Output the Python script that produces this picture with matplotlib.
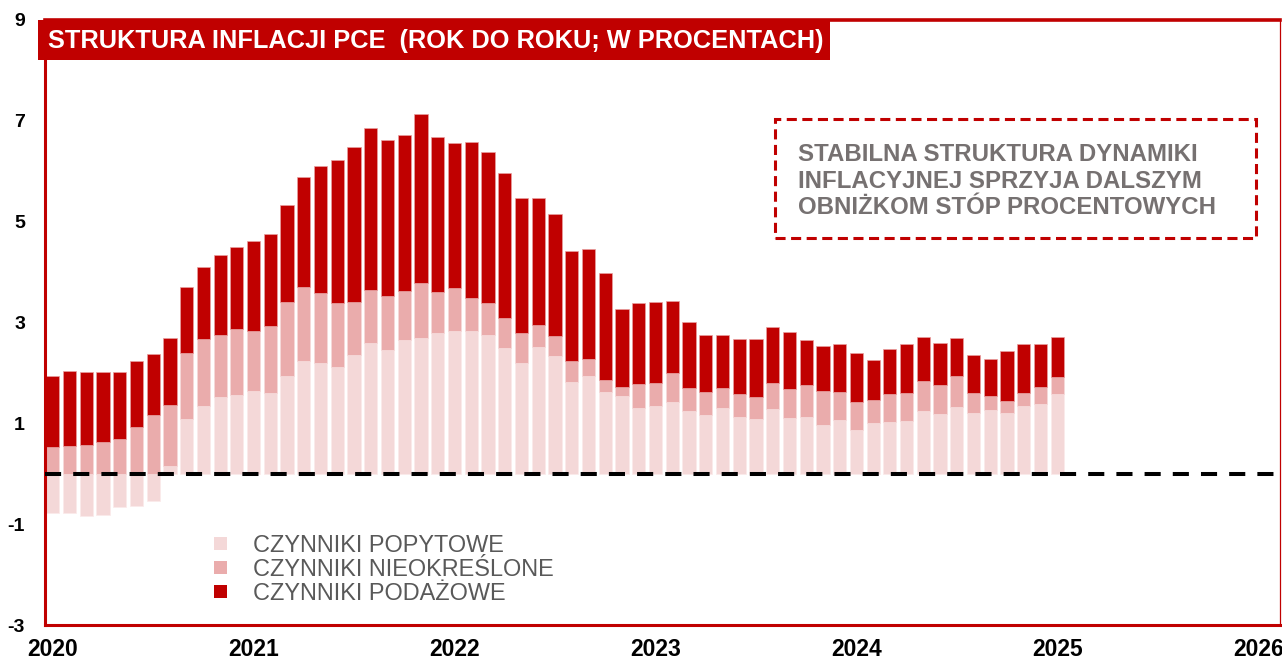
import numpy as np
import matplotlib
matplotlib.use("Agg")
import matplotlib.pyplot as plt
from matplotlib.patches import Rectangle

plt.rcParams["font.family"] = ["Liberation Sans", "DejaVu Sans"]

# monthly data, Jan 2020 - Jan 2025 (y/y, %)
demand = [
    -0.78, -0.77, -0.83, -0.81, -0.66, -0.63, -0.54, 0.15, 1.09, 1.35,
    1.53, 1.57, 1.64, 1.60, 1.93, 2.24, 2.20, 2.12, 2.35, 2.60,
    2.46, 2.65, 2.70, 2.79, 2.83, 2.83, 2.75, 2.50, 2.20, 2.52,
    2.34, 1.82, 1.93, 1.62, 1.54, 1.30, 1.35, 1.42, 1.25, 1.17,
    1.31, 1.13, 1.09, 1.28, 1.11, 1.13, 0.97, 1.07, 0.86, 1.00,
    1.03, 1.05, 1.25, 1.19, 1.33, 1.20, 1.26, 1.21, 1.35, 1.38,
    1.58,
]
undetermined = [
    0.54, 0.55, 0.57, 0.62, 0.68, 0.92, 1.17, 1.22, 1.30, 1.32,
    1.23, 1.30, 1.19, 1.33, 1.48, 1.47, 1.39, 1.27, 1.06, 1.05,
    1.07, 0.98, 1.09, 0.82, 0.85, 0.66, 0.64, 0.58, 0.59, 0.43,
    0.39, 0.42, 0.35, 0.23, 0.19, 0.49, 0.45, 0.58, 0.45, 0.46,
    0.39, 0.45, 0.44, 0.52, 0.57, 0.63, 0.67, 0.55, 0.56, 0.46,
    0.55, 0.55, 0.59, 0.57, 0.60, 0.40, 0.28, 0.23, 0.25, 0.34,
    0.33,
]
supply = [
    1.40, 1.49, 1.44, 1.39, 1.33, 1.31, 1.21, 1.33, 1.31, 1.43,
    1.58, 1.62, 1.78, 1.82, 1.92, 2.18, 2.52, 2.83, 3.07, 3.20,
    3.09, 3.09, 3.34, 3.07, 2.89, 3.10, 3.00, 2.89, 2.68, 2.52,
    2.42, 2.18, 2.17, 2.13, 1.53, 1.59, 1.60, 1.42, 1.31, 1.12,
    1.05, 1.10, 1.15, 1.11, 1.13, 0.89, 0.90, 0.96, 0.98, 0.79,
    0.89, 0.98, 0.87, 0.84, 0.76, 0.75, 0.74, 1.00, 0.97, 0.85,
    0.80,
]
years = ["2020", "2021", "2022", "2023", "2024", "2025", "2026"]
series_labels = ["CZYNNIKI POPYTOWE", "CZYNNIKI NIEOKREŚLONE", "CZYNNIKI PODAŻOWE"]
colors = ["#F4D8D8", "#EAACAC", "#C00000"]
title = "STRUKTURA INFLACJI PCE  (ROK DO ROKU; W PROCENTACH)"
note = "STABILNA STRUKTURA DYNAMIKI\nINFLACYJNEJ SPRZYJA DALSZYM\nOBNIŻKOM STÓP PROCENTOWYCH"

W, H = 1282, 661
fig = plt.figure(figsize=(W / 100, H / 100), dpi=100)
ax = fig.add_axes([44.5 / W, 1 - 625 / H, (1280 - 44.5) / W, 605 / H])

x = np.arange(len(demand))
d = np.array(demand)
u = np.array(undetermined)
s = np.array(supply)
base_u = np.clip(d, 0, None)
base_s = base_u + u

bw = 0.79
ax.bar(x, d, bw, color=colors[0], edgecolor="#FBEAEA", linewidth=0.5, zorder=2)
ax.bar(x, u, bw, bottom=base_u, color=colors[1], edgecolor="#F6DADA", linewidth=0.5, zorder=2)
ax.bar(x, s, bw, bottom=base_s, color=colors[2], edgecolor="#E8A0A0", linewidth=0.5, zorder=2)

ax.axhline(0, color="black", lw=2.9, linestyle=(0, (4, 3)), zorder=3)

ax.set_xlim(-0.49, 73.3)
ax.set_ylim(-3, 9)
ax.set_yticks(np.arange(-3, 10, 2))
ax.set_yticklabels([str(v) for v in range(-3, 10, 2)], fontsize=14, fontweight="bold")
ax.set_xticks(np.arange(0, 12 * len(years), 12))
ax.set_xticklabels(years, fontsize=16.5, fontweight="bold")
ax.tick_params(axis="y", length=0, pad=14)
ax.tick_params(axis="x", length=0, pad=9)

red = "#C00000"
for side, lw in [("left", 2.2), ("bottom", 2.2), ("top", 2.6), ("right", 0.9)]:
    ax.spines[side].set_color(red)
    ax.spines[side].set_linewidth(lw)

# title box
fig.patches.append(Rectangle((38 / W, 1 - 60 / H), 792 / W, 40 / H,
                             transform=fig.transFigure, facecolor=red,
                             edgecolor="none", zorder=5))
fig.text(48 / W, 1 - 41 / H, title, color="white", fontsize=18.3,
         fontweight="bold", va="center", ha="left", zorder=6)

# note box
fig.patches.append(Rectangle((775 / W, 1 - 238 / H), 481 / W, 119 / H,
                             transform=fig.transFigure, facecolor="white",
                             edgecolor=red, linewidth=2.2,
                             linestyle=(0, (3.3, 1.8)), zorder=5))
fig.text(798 / W, 1 - 181 / H, note, color="#767171", fontsize=17.3,
         fontweight="bold", va="center", ha="left", linespacing=1.2, zorder=6)

# legend
for i, (lab, c) in enumerate(zip(series_labels, colors)):
    yc = 543 + 24 * i
    fig.patches.append(Rectangle((214 / W, 1 - (yc + 6.5) / H), 13 / W, 13 / H,
                                 transform=fig.transFigure, facecolor=c,
                                 edgecolor="none", zorder=5))
    fig.text(253 / W, 1 - yc / H, lab, color="#595959", fontsize=16.9,
             va="center_baseline", ha="left", zorder=6)

fig.savefig("out.png", dpi=100)
